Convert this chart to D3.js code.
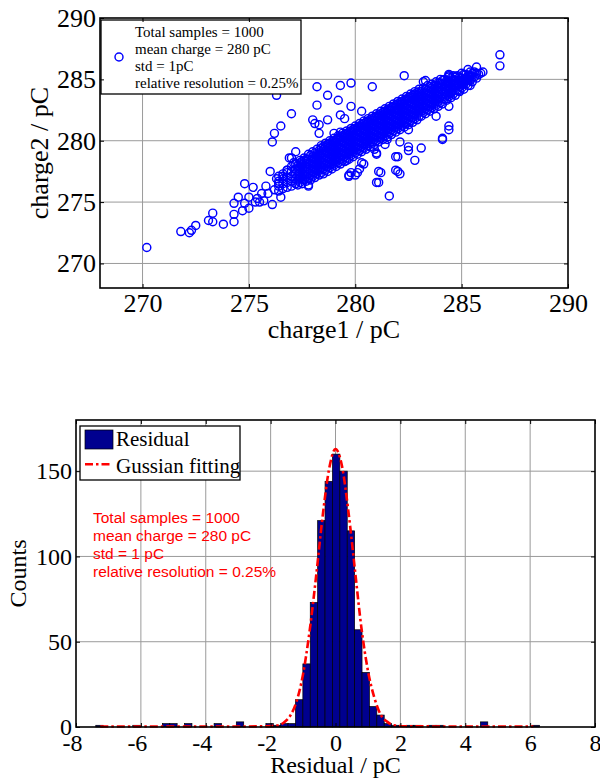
<!DOCTYPE html>
<html>
<head>
<meta charset="utf-8">
<script src="https://cdn.jsdelivr.net/npm/d3@7"></script>
<style>
  body { margin: 0; background: #fff; }
  .tick text { font-family: "Liberation Serif", "Times New Roman", serif; }
</style>
</head>
<body>
<svg id="chart" width="600" height="781"></svg>
<script>
// ---- top panel: charge1 vs charge2 scatter ----
const chargeDomain = [268, 290]
const chargeTicks = [270, 275, 280, 285, 290]
const chargeGrid = [270, 275, 280, 285]

// isolated circles [charge1, charge2]
const scatterOutliers = [
  [270.2, 271.3], [271.8, 272.6], [272.2, 272.5], [272.3, 272.7], [272.5, 273.1], [273.1, 273.5],
  [273.3, 273.4], [273.3, 274.1], [273.8, 273.2], [274.3, 273.4], [274.3, 274.0], [274.3, 274.9],
  [274.5, 275.4], [274.8, 276.5], [274.7, 274.3], [275.0, 274.5], [274.8, 274.9], [275.2, 276.2],
  [275.0, 275.4], [275.4, 275.3], [275.3, 275.0], [275.5, 275.0], [275.6, 275.7], [275.8, 276.3],
  [275.7, 275.1], [276.1, 274.8], [276.0, 277.5], [275.9, 275.7], [276.2, 276.0], [276.5, 275.4],
  [276.4, 276.5], [276.3, 276.9], [276.6, 277.1], [276.8, 277.6], [276.9, 278.6], [277.1, 278.2],
  [276.1, 279.9], [276.2, 280.6], [276.5, 281.2], [277.0, 282.2], [276.3, 283.7],
  [278.2, 284.4], [279.3, 284.5], [279.8, 284.7], [280.8, 284.4], [278.7, 283.7], [279.2, 283.3],
  [278.2, 282.9], [278.7, 281.7], [279.3, 282.1], [279.5, 281.8], [280.3, 282.4], [279.8, 282.8],
  [278.0, 281.7], [278.1, 281.4], [278.3, 281.3], [278.3, 280.6], [279.0, 280.6], [279.3, 280.7],
  [277.0, 278.6], [277.2, 279.1], [282.3, 285.3], [283.2, 284.8], [283.3, 284.9],
  [277.8, 276.3], [277.8, 276.4], [277.2, 276.5], [279.6, 278.4], [279.7, 277.2], [279.7, 277.1],
  [279.8, 277.4], [280.0, 277.2], [280.1, 277.4], [280.2, 277.7], [280.3, 278.2], [280.4, 278.1],
  [280.9, 279.3], [281.0, 279.0], [281.0, 278.9], [281.2, 277.4], [281.1, 277.5], [281.0, 276.6],
  [281.1, 276.6], [281.6, 275.5], [281.9, 278.7], [282.0, 278.7], [282.0, 277.5], [281.9, 277.6],
  [282.1, 277.3], [281.4, 279.7], [281.5, 280.1], [282.1, 279.9], [282.5, 279.5], [282.5, 279.2],
  [283.1, 279.4], [282.8, 278.4], [284.1, 280.1], [284.4, 280.9], [282.5, 280.9], [284.1, 280.2],
  [284.4, 281.2], [283.8, 282.0], [284.4, 282.8],
  [286.8, 287.0], [286.8, 286.1], [285.7, 286.0], [285.3, 285.8], [286.0, 285.6], [285.9, 285.5],
  [285.4, 285.2], [285.4, 284.5], [284.4, 285.3], [284.7, 285.2], [285.0, 284.8], [284.9, 284.1],
  [284.5, 283.9], [284.4, 285.4]
]

// the dense band of overlapping circles: [charge1, [charge2 values]]
const bandColumns = [
  [276.4, [275.9, 276.3, 276.7, 277.1]],
  [276.6, [276.1, 276.5, 276.9, 277.3]],
  [276.8, [276.2, 276.6, 277.0, 277.4, 277.6]],
  [277.0, [276.3, 276.7, 277.1, 277.5, 277.9]],
  [277.2, [276.5, 276.9, 277.3, 277.7, 278.1]],
  [277.3, [276.4, 276.8, 277.2, 277.6, 278.0]],
  [277.4, [276.6, 277.0, 277.4, 277.8, 278.2, 278.4]],
  [277.5, [276.5, 276.9, 277.3, 277.7, 278.1, 278.3]],
  [277.6, [276.8, 277.2, 277.6, 278.0, 278.4, 278.6]],
  [277.7, [276.7, 277.1, 277.5, 277.9, 278.3, 278.5]],
  [277.8, [276.9, 277.3, 277.7, 278.1, 278.5, 278.9]],
  [277.9, [276.8, 277.2, 277.6, 278.0, 278.4, 278.8]],
  [278.0, [277.1, 277.5, 277.9, 278.3, 278.7, 279.1]],
  [278.1, [277.0, 277.4, 277.8, 278.2, 278.6, 279.0]],
  [278.2, [277.3, 277.7, 278.1, 278.5, 278.9, 279.3]],
  [278.3, [277.2, 277.6, 278.0, 278.4, 278.8, 279.2]],
  [278.4, [277.4, 277.8, 278.2, 278.6, 279.0, 279.4, 279.6]],
  [278.5, [277.3, 277.7, 278.1, 278.5, 278.9, 279.3, 279.5]],
  [278.6, [277.6, 278.0, 278.4, 278.8, 279.2, 279.6, 279.8]],
  [278.7, [277.5, 277.9, 278.3, 278.7, 279.1, 279.5, 279.7]],
  [278.8, [277.8, 278.2, 278.6, 279.0, 279.4, 279.8, 280.0]],
  [278.9, [277.7, 278.1, 278.5, 278.9, 279.3, 279.7, 279.9]],
  [279.0, [278.0, 278.4, 278.8, 279.2, 279.6, 280.0, 280.2]],
  [279.1, [277.9, 278.3, 278.7, 279.1, 279.5, 279.9, 280.1]],
  [279.2, [278.2, 278.6, 279.0, 279.4, 279.8, 280.2, 280.4]],
  [279.3, [278.1, 278.5, 278.9, 279.3, 279.7, 280.1, 280.3]],
  [279.4, [278.4, 278.8, 279.2, 279.6, 280.0, 280.4, 280.6]],
  [279.5, [278.3, 278.7, 279.1, 279.5, 279.9, 280.3, 280.5]],
  [279.6, [278.6, 279.0, 279.4, 279.8, 280.2, 280.6, 280.8]],
  [279.7, [278.5, 278.9, 279.3, 279.7, 280.1, 280.5, 280.7]],
  [279.8, [278.8, 279.2, 279.6, 280.0, 280.4, 280.8, 281.0]],
  [279.9, [278.7, 279.1, 279.5, 279.9, 280.3, 280.7, 280.9]],
  [280.0, [279.0, 279.4, 279.8, 280.2, 280.6, 281.0, 281.2]],
  [280.1, [278.9, 279.3, 279.7, 280.1, 280.5, 280.9, 281.1]],
  [280.2, [279.2, 279.6, 280.0, 280.4, 280.8, 281.2, 281.4]],
  [280.3, [279.1, 279.5, 279.9, 280.3, 280.7, 281.1, 281.3]],
  [280.4, [279.4, 279.8, 280.2, 280.6, 281.0, 281.4, 281.6]],
  [280.5, [279.3, 279.7, 280.1, 280.5, 280.9, 281.3, 281.5]],
  [280.6, [279.6, 280.0, 280.4, 280.8, 281.2, 281.6, 281.8]],
  [280.7, [279.5, 279.9, 280.3, 280.7, 281.1, 281.5, 281.7]],
  [280.8, [279.8, 280.2, 280.6, 281.0, 281.4, 281.8, 282.0]],
  [280.9, [279.7, 280.1, 280.5, 280.9, 281.3, 281.7, 281.9]],
  [281.0, [280.0, 280.4, 280.8, 281.2, 281.6, 282.0, 282.2]],
  [281.1, [279.9, 280.3, 280.7, 281.1, 281.5, 281.9, 282.1]],
  [281.2, [280.2, 280.6, 281.0, 281.4, 281.8, 282.2, 282.4]],
  [281.3, [280.1, 280.5, 280.9, 281.3, 281.7, 282.1, 282.3]],
  [281.4, [280.4, 280.8, 281.2, 281.6, 282.0, 282.4, 282.6]],
  [281.5, [280.3, 280.7, 281.1, 281.5, 281.9, 282.3, 282.5]],
  [281.6, [280.6, 281.0, 281.4, 281.8, 282.2, 282.6, 282.8]],
  [281.7, [280.5, 280.9, 281.3, 281.7, 282.1, 282.5, 282.7]],
  [281.8, [280.8, 281.2, 281.6, 282.0, 282.4, 282.8, 283.0]],
  [281.9, [280.7, 281.1, 281.5, 281.9, 282.3, 282.7, 282.9]],
  [282.0, [281.0, 281.4, 281.8, 282.2, 282.6, 283.0, 283.2]],
  [282.1, [280.9, 281.3, 281.7, 282.1, 282.5, 282.9, 283.1]],
  [282.2, [281.2, 281.6, 282.0, 282.4, 282.8, 283.2, 283.4]],
  [282.3, [281.1, 281.5, 281.9, 282.3, 282.7, 283.1, 283.3]],
  [282.4, [281.4, 281.8, 282.2, 282.6, 283.0, 283.4, 283.6]],
  [282.5, [281.3, 281.7, 282.1, 282.5, 282.9, 283.3, 283.5]],
  [282.6, [281.6, 282.0, 282.4, 282.8, 283.2, 283.6, 283.8]],
  [282.7, [281.5, 281.9, 282.3, 282.7, 283.1, 283.5, 283.7]],
  [282.8, [281.8, 282.2, 282.6, 283.0, 283.4, 283.8, 284.0]],
  [282.9, [281.7, 282.1, 282.5, 282.9, 283.3, 283.7, 283.9]],
  [283.0, [282.0, 282.4, 282.8, 283.2, 283.6, 284.0, 284.2]],
  [283.1, [282.0, 282.4, 282.8, 283.2, 283.6, 284.0]],
  [283.2, [282.3, 282.7, 283.1, 283.5, 283.9, 284.3]],
  [283.3, [282.2, 282.6, 283.0, 283.4, 283.8, 284.2]],
  [283.4, [282.5, 282.9, 283.3, 283.7, 284.1, 284.5]],
  [283.5, [282.4, 282.8, 283.2, 283.6, 284.0, 284.4]],
  [283.6, [282.7, 283.1, 283.5, 283.9, 284.3, 284.6]],
  [283.7, [282.6, 283.0, 283.4, 283.8, 284.2, 284.5]],
  [283.8, [282.9, 283.3, 283.7, 284.1, 284.5, 284.8]],
  [283.9, [282.8, 283.2, 283.6, 284.0, 284.4, 284.7]],
  [284.0, [283.1, 283.5, 283.9, 284.3, 284.7, 285.0]],
  [284.1, [283.0, 283.4, 283.8, 284.2, 284.6, 284.9]],
  [284.2, [283.4, 283.8, 284.2, 284.6, 285.0]],
  [284.3, [283.3, 283.7, 284.1, 284.5, 284.9]],
  [284.4, [283.6, 284.0, 284.4, 284.8, 285.2]],
  [284.5, [283.5, 283.9, 284.3, 284.7, 285.1]],
  [284.6, [283.8, 284.2, 284.6, 285.0, 285.3]],
  [284.7, [283.7, 284.1, 284.5, 284.9, 285.2]],
  [284.8, [284.1, 284.5, 284.9, 285.3]],
  [284.9, [284.0, 284.4, 284.8, 285.2]],
  [285.0, [284.3, 284.7, 285.1, 285.5]],
  [285.1, [284.2, 284.6, 285.0, 285.4]],
  [285.2, [284.6, 285.0, 285.4]],
  [285.3, [284.5, 284.9, 285.3]],
  [285.4, [284.9, 285.3, 285.6]],
  [285.5, [284.8, 285.2, 285.5]],
  [285.6, [285.2, 285.6]],
  [285.7, [285.1, 285.5]],
  [285.8, [285.4]]
]

const scatterLegend = ['Total samples = 1000', 'mean charge = 280 pC', 'std = 1pC', 'relative resolution = 0.25%']

// ---- bottom panel: residual histogram ----
const residualDomain = [-8, 8]
const residualTicks = [-8, -6, -4, -2, 0, 2, 4, 6, 8]
const countDomain = [0, 180]
const countTicks = [0, 50, 100, 150]
const histBinWidth = 0.228
const histCenters = [
  -7.276, -7.048, -6.820, -6.592, -6.364, -6.136, -5.908, -5.680, -5.452, -5.224,
  -4.996, -4.768, -4.540, -4.312, -4.084, -3.856, -3.628, -3.400, -3.172, -2.944,
  -2.716, -2.488, -2.260, -2.032, -1.804, -1.576, -1.348, -1.120, -0.892, -0.664,
  -0.436, -0.208, 0.020, 0.248, 0.476, 0.704, 0.932, 1.160, 1.388, 1.616,
  1.844, 2.072, 2.300, 2.528, 2.756, 2.984, 3.212, 3.440, 3.668, 3.896,
  4.124, 4.352, 4.580, 4.808, 5.036, 5.264, 5.492, 5.720, 5.948, 6.176
]
const histCounts = [
  1, 0, 0, 0, 0, 1, 0, 0, 0, 2,
  2, 0, 2, 0, 0, 0, 2, 0, 0, 3,
  0, 0, 0, 2, 1, 2, 2, 16, 37, 73,
  121, 144, 160, 150, 115, 57, 32, 12, 7, 2,
  1, 0, 1, 1, 0, 1, 1, 0, 0, 0,
  0, 0, 3, 0, 0, 0, 0, 0, 0, 1
]
const fitX = [-7.25, -5, -3, -2.2, -1.8, -1.6, -1.4, -1.2, -1.0, -0.8, -0.6, -0.4, -0.2, 0,
  0.2, 0.4, 0.6, 0.8, 1.0, 1.2, 1.4, 1.6, 1.8, 2.2, 4, 6.1]
const fitY = [0.3, 0.3, 0.3, 0.4, 0.9, 2.5, 6.5, 15, 31, 56, 88, 123, 151, 163,
  153, 126, 92, 58, 33, 17, 7, 3, 1, 0.4, 0.3, 0.3]
const histNote = ['Total samples = 1000', 'mean charge = 280 pC', 'std = 1 pC', 'relative resolution = 0.25%']

const serif = '"Liberation Serif", "Times New Roman", serif'
const sans = '"Liberation Sans", Arial, sans-serif'
const gridColor = '#9a9a9a'
const fitDash = '8,3,2.5,3'

const svg = d3.select('#chart')

// box with inward ticks on all four sides
const drawFrame = (g, x, y, xTicks, yTicks, opts) => {
    const [x0, x1] = x.range()
    const [y0, y1] = y.range()

    const bottom = g.append('g')
        .attr('transform', `translate(0,${y0})`)
        .call(d3.axisBottom(x).tickValues(xTicks).tickSizeInner(-4).tickSizeOuter(0)
            .tickFormat(d => String(d)))
    bottom.selectAll('text')
        .attr('y', opts.xLabelY)
        .attr('dy', null)
        .attr('dx', d => d < 0 ? -4 : 0)
        .style('font-family', serif)
        .style('font-size', opts.fontSize + 'px')
        .attr('fill', '#000')

    const left = g.append('g')
        .attr('transform', `translate(${x0},0)`)
        .call(d3.axisLeft(y).tickValues(yTicks).tickSizeInner(-4).tickSizeOuter(0).tickPadding(4))
    left.selectAll('text')
        .style('font-family', serif)
        .style('font-size', opts.fontSize + 'px')
        .attr('fill', '#000')

    g.append('g')
        .attr('transform', `translate(0,${y1})`)
        .call(d3.axisTop(x).tickValues(xTicks).tickSizeInner(-4).tickSizeOuter(0).tickFormat(''))
    g.append('g')
        .attr('transform', `translate(${x1},0)`)
        .call(d3.axisRight(y).tickValues(yTicks).tickSizeInner(-4).tickSizeOuter(0).tickFormat(''))

    g.selectAll('.domain').remove()
    g.selectAll('.tick line').attr('stroke', '#000').attr('stroke-width', 1)

    g.append('rect')
        .attr('x', x0)
        .attr('y', y1)
        .attr('width', x1 - x0)
        .attr('height', y0 - y1)
        .attr('fill', 'none')
        .attr('stroke', '#000')
        .attr('stroke-width', 1.6)
}

// ---------- top panel ----------
const xs = d3.scaleLinear().domain(chargeDomain).range([100, 568])
const ys = d3.scaleLinear().domain(chargeDomain).range([288, 18])
const topG = svg.append('g')

topG.append('g').selectAll('line')
    .data(chargeGrid)
    .join('line')
    .attr('x1', d => xs(d)).attr('x2', d => xs(d))
    .attr('y1', 18).attr('y2', 288)
    .attr('stroke', gridColor).attr('stroke-width', 1)
topG.append('g').selectAll('line')
    .data(chargeGrid)
    .join('line')
    .attr('x1', 100).attr('x2', 568)
    .attr('y1', d => ys(d)).attr('y2', d => ys(d))
    .attr('stroke', gridColor).attr('stroke-width', 1)

const scatterData = bandColumns
    .flatMap(([c1, list]) => list.map(c2 => [c1, c2]))
    .concat(scatterOutliers)

topG.append('g').selectAll('circle')
    .data(scatterData)
    .join('circle')
    .attr('cx', d => xs(d[0]))
    .attr('cy', d => ys(d[1]))
    .attr('r', 4)
    .attr('fill', 'none')
    .attr('stroke', '#0000ff')
    .attr('stroke-width', 1.45)

// legend of the scatter
const leg1 = topG.append('g')
leg1.append('rect')
    .attr('x', 101).attr('y', 20).attr('width', 200).attr('height', 74)
    .attr('fill', '#fff').attr('stroke', '#000').attr('stroke-width', 1.3)
leg1.append('circle')
    .attr('cx', 119).attr('cy', 57).attr('r', 4)
    .attr('fill', 'none').attr('stroke', '#0000ff').attr('stroke-width', 1.45)
leg1.selectAll('text')
    .data(scatterLegend)
    .join('text')
    .attr('x', 135)
    .attr('y', (d, i) => 36.7 + i * 17.2)
    .attr('font-family', serif)
    .attr('font-size', 15)
    .text(d => d)

drawFrame(topG, xs, ys, chargeTicks, chargeTicks, { xLabelY: 24, fontSize: 26 })

topG.append('text')
    .attr('x', 334).attr('y', 338)
    .attr('text-anchor', 'middle')
    .attr('font-family', serif).attr('font-size', 26)
    .text('charge1 / pC')
topG.append('text')
    .attr('transform', 'translate(48,153) rotate(-90)')
    .attr('text-anchor', 'middle')
    .attr('font-family', serif).attr('font-size', 26)
    .text('charge2 / pC')

// ---------- bottom panel ----------
const xr = d3.scaleLinear().domain(residualDomain).range([76, 595])
const yc = d3.scaleLinear().domain(countDomain).range([727, 420])
const botG = svg.append('g')

botG.append('g').selectAll('line')
    .data(residualTicks.slice(1, -1))
    .join('line')
    .attr('x1', d => xr(d)).attr('x2', d => xr(d))
    .attr('y1', 420).attr('y2', 727)
    .attr('stroke', gridColor).attr('stroke-width', 1)
botG.append('g').selectAll('line')
    .data(countTicks.slice(1))
    .join('line')
    .attr('x1', 76).attr('x2', 595)
    .attr('y1', d => yc(d)).attr('y2', d => yc(d))
    .attr('stroke', gridColor).attr('stroke-width', 1)

const bins = histCenters.map((c, i) => ({ c, n: histCounts[i] })).filter(d => d.n > 0)
botG.append('g').selectAll('rect')
    .data(bins)
    .join('rect')
    .attr('x', d => xr(d.c - histBinWidth / 2))
    .attr('width', d => xr(d.c + histBinWidth / 2) - xr(d.c - histBinWidth / 2))
    .attr('y', d => yc(d.n))
    .attr('height', d => yc(0) - yc(d.n))
    .attr('fill', '#00008f')
    .attr('stroke', '#000')
    .attr('stroke-width', 0.7)

const fitLine = d3.line()
    .x(d => xr(d[0]))
    .y(d => yc(d[1]))
    .curve(d3.curveMonotoneX)

botG.append('path')
    .datum(fitX.map((v, i) => [v, fitY[i]]))
    .attr('d', fitLine)
    .attr('fill', 'none')
    .attr('stroke', '#ff0000')
    .attr('stroke-width', 2.6)
    .attr('stroke-dasharray', fitDash)

botG.append('g').selectAll('text')
    .data(histNote)
    .join('text')
    .attr('x', 93)
    .attr('y', (d, i) => 522.7 + i * 18.2)
    .attr('font-family', sans)
    .attr('font-size', 15.5)
    .attr('fill', '#ff0000')
    .text(d => d)

const leg2 = botG.append('g')
leg2.append('rect')
    .attr('x', 80).attr('y', 426).attr('width', 160).attr('height', 54)
    .attr('fill', '#fff').attr('stroke', '#000').attr('stroke-width', 1.3)
leg2.append('rect')
    .attr('x', 85).attr('y', 430).attr('width', 28).attr('height', 19)
    .attr('fill', '#00008f').attr('stroke', '#000').attr('stroke-width', 0.7)
leg2.append('line')
    .attr('x1', 85).attr('x2', 112).attr('y1', 464.3).attr('y2', 464.3)
    .attr('stroke', '#ff0000').attr('stroke-width', 2.6)
    .attr('stroke-dasharray', fitDash)
leg2.append('text')
    .attr('x', 116).attr('y', 446)
    .attr('font-family', serif).attr('font-size', 21)
    .text('Residual')
leg2.append('text')
    .attr('x', 116).attr('y', 472.5)
    .attr('font-family', serif).attr('font-size', 21)
    .text('Gussian fitting')

drawFrame(botG, xr, yc, residualTicks, countTicks, { xLabelY: 24, fontSize: 24 })

botG.append('text')
    .attr('x', 335.5).attr('y', 773)
    .attr('text-anchor', 'middle')
    .attr('font-family', serif).attr('font-size', 24)
    .text('Residual / pC')
botG.append('text')
    .attr('transform', 'translate(26,573.5) rotate(-90)')
    .attr('text-anchor', 'middle')
    .attr('font-family', serif).attr('font-size', 24)
    .text('Counts')
</script>
</body>
</html>
